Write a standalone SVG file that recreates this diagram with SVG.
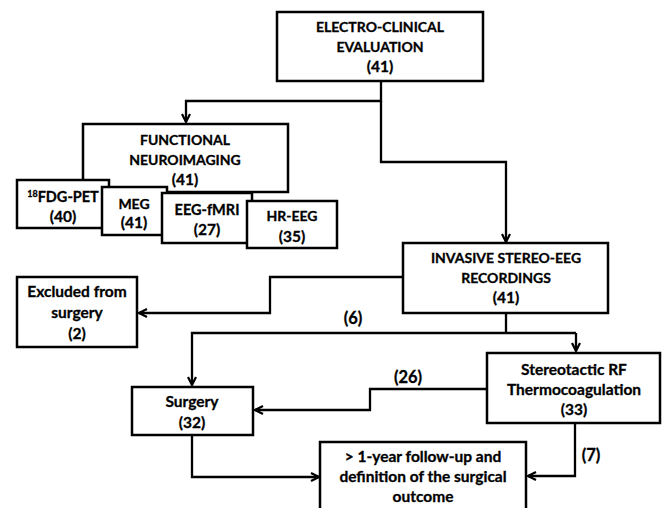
<svg xmlns="http://www.w3.org/2000/svg" width="664" height="508" viewBox="0 0 664 508">
<style>
.box{fill:#fff;stroke:#000;stroke-width:2.5}
.ln{fill:none;stroke:#000;stroke-width:2.3}
text{font-family:Lato,"Liberation Sans",Arial,sans-serif;font-weight:bold;font-size:15.5px;fill:#000;stroke:#000;stroke-width:0.3;text-anchor:middle}
text.c{font-size:14px}
text.l{font-size:16.5px}
</style>
<defs>
<marker id="ah" viewBox="0 0 10 10" refX="9" refY="5" markerWidth="10" markerHeight="10" markerUnits="userSpaceOnUse" orient="auto">
<path d="M1,1 L9,5 L1,9" fill="none" stroke="#000" stroke-width="2.2"/>
</marker>
</defs>
<g id="connectors">
<path class="ln" d="M381,81 V101 H186 V122" marker-end="url(#ah)"/>
<path class="ln" d="M381,101 V162 H506 V242" marker-end="url(#ah)"/>
<path class="ln" d="M403,277 H270 V313 H139" marker-end="url(#ah)"/>
<path class="ln" d="M506,313 V333"/>
<path class="ln" d="M576,333 H192 V385" marker-end="url(#ah)"/>
<path class="ln" d="M576,333 V351" marker-end="url(#ah)"/>
<path class="ln" d="M487,389 H370 V410 H255" marker-end="url(#ah)"/>
<path class="ln" d="M192,435 V477 H319" marker-end="url(#ah)"/>
<path class="ln" d="M575,423 V476 H528" marker-end="url(#ah)"/>
<text class="l" x="353" y="324">(6)</text>
<text class="l" x="408" y="383">(26)</text>
<text class="l" x="591" y="461">(7)</text>
</g>
<g id="electro">
<rect class="box" x="277" y="12" width="206" height="69"/>
<text class="c" x="380" y="32">ELECTRO-CLINICAL</text>
<text class="c" x="380" y="52">EVALUATION</text>
<text x="380" y="72">(41)</text>
</g>
<g id="functional">
<rect class="box" x="83" y="124" width="205" height="68"/>
<text class="c" x="185" y="145">FUNCTIONAL</text>
<text class="c" x="185" y="165">NEUROIMAGING</text>
<text x="185" y="185">(41)</text>
</g>
<g id="fdgpet">
<rect class="box" x="17" y="180" width="92" height="48"/>
<text x="63" y="202" style="font-size:14.5px"><tspan font-size="9" dy="-5">18</tspan><tspan dy="5">FDG-PET</tspan></text>
<text x="63" y="222">(40)</text>
</g>
<g id="meg">
<rect class="box" x="102" y="187" width="65" height="48"/>
<text class="c" x="134" y="209">MEG</text>
<text x="134" y="228">(41)</text>
</g>
<g id="eegfmri">
<rect class="box" x="162" y="193" width="90" height="50"/>
<text x="207" y="215" style="font-size:14.5px">EEG-fMRI</text>
<text x="207" y="235">(27)</text>
</g>
<g id="hreeg">
<rect class="box" x="247" y="201" width="90" height="47"/>
<text class="c" x="292" y="221">HR-EEG</text>
<text x="292" y="242">(35)</text>
</g>
<g id="invasive">
<rect class="box" x="403" y="243" width="205" height="70"/>
<text class="c" x="506" y="263">INVASIVE STEREO-EEG</text>
<text class="c" x="506" y="283">RECORDINGS</text>
<text x="506" y="303">(41)</text>
</g>
<g id="excluded">
<rect class="box" x="17" y="277" width="120" height="70"/>
<text x="77" y="297">Excluded from</text>
<text x="77" y="318">surgery</text>
<text x="77" y="339">(2)</text>
</g>
<g id="surgery">
<rect class="box" x="132" y="387" width="121" height="48"/>
<text x="192" y="407">Surgery</text>
<text x="192" y="428">(32)</text>
</g>
<g id="stereotactic">
<rect class="box" x="487" y="353" width="173" height="70"/>
<text x="574" y="375">Stereotactic RF</text>
<text x="574" y="395">Thermocoagulation</text>
<text x="574" y="415">(33)</text>
</g>
<g id="outcome">
<rect class="box" x="320" y="442" width="206" height="80"/>
<text x="423" y="462">&gt; 1-year follow-up and</text>
<text x="423" y="482">definition of the surgical</text>
<text x="423" y="502">outcome</text>
</g>
</svg>
